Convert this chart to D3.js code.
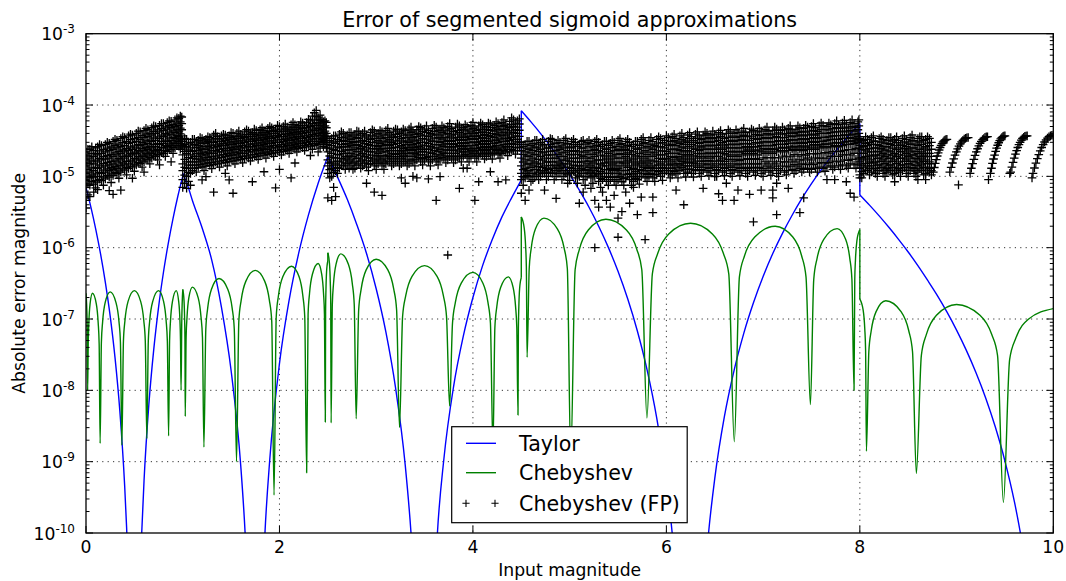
<!DOCTYPE html>
<html><head><meta charset="utf-8">
<script src="https://cdn.jsdelivr.net/npm/d3@7"></script>
<style>
body{margin:0;background:#fff}
svg{display:block}
text{font-family:"DejaVu Sans","Liberation Sans",sans-serif;fill:#000}
</style>
</head><body>
<svg id="chart" width="1066" height="581"></svg>
<script>
// ---------------- text ----------------
const titleText = "Error of segmented sigmoid approximations";
const xLabelText = "Input magnitude";
const yLabelText = "Absolute error magnitude";
const seriesNames = ["Taylor", "Chebyshev", "Chebyshev (FP)"];

// ---------------- ticks ----------------
const xTicks = [0, 2, 4, 6, 8, 10];
const yExponents = [-10, -9, -8, -7, -6, -5, -4, -3];

// ---------------- Taylor error (per segment) ----------------
const taylorSeg0 = [[0,7.0e-6],[0.05,3.73e-6],[0.1,1.84e-6],[0.15,8.25e-7],[0.2,3.27e-7],[0.25,1.1e-7],[0.3,2.87e-8],[0.35,5.1e-9],[0.4,4.5e-10],[0.42,1.18e-10],[0.45,7e-12],[0.55,8.1e-12],[0.576,1e-10],[0.6,5.4e-10],[0.65,6.4e-9],[0.7,3.7e-8],[0.75,1.46e-7],[0.8,4.45e-7],[0.85,1.14e-6],[0.9,2.58e-6],[0.95,5.3e-6],[1.0,1.0e-5]];
const taylorSeg1 = [[1.0,1.1e-5],[1.05,7.5e-6],[1.1,4.6e-6],[1.2,1.9e-6],[1.3,6.7e-7],[1.4,1.47e-7],[1.5,1.9e-8],[1.6,8.7e-10],[1.645,1e-10],[1.68,8.8e-12],[1.82,1.1e-11],[1.85,1e-10],[1.9,1.08e-9],[2.0,2.37e-8],[2.1,1.84e-7],[2.2,8.5e-7],[2.3,2.88e-6],[2.4,8.0e-6],[2.5,1.9e-5]];
const taylorSeg2 = [[2.5,1.9e-5],[2.6,9.8e-6],[2.7,4.8e-6],[2.8,2.1e-6],[2.9,8.3e-7],[3.0,2.66e-7],[3.1,6.6e-8],[3.2,1.09e-8],[3.3,9e-10],[3.36,1e-10],[3.4,1.3e-11],[3.6,1.3e-11],[3.633,1e-10],[3.7,1.1e-9],[3.8,1.13e-8],[3.9,5.7e-8],[4.0,2.0e-7],[4.1,5.6e-7],[4.2,1.3e-6],[4.3,2.7e-6],[4.4,5.0e-6],[4.5,8.9e-6]];
const taylorSeg3 = [[4.5,8.3e-5],[4.6,5.8e-5],[4.7,3.98e-5],[4.8,2.66e-5],[4.9,1.72e-5],[5.0,1.07e-5],[5.1,6.4e-6],[5.2,3.69e-6],[5.3,2.0e-6],[5.4,1.01e-6],[5.5,4.66e-7],[5.6,1.92e-7],[5.7,6.8e-8],[5.8,1.95e-8],[5.9,4.1e-9],[6.0,5.3e-10],[6.06,1e-10],[6.1,2.4e-11],[6.4,2.7e-11],[6.436,1e-10],[6.5,5.8e-10],[6.6,4.3e-9],[6.7,1.91e-8],[6.8,6.3e-8],[6.9,1.69e-7],[7.0,3.95e-7],[7.1,8.3e-7],[7.2,1.59e-6],[7.3,2.85e-6],[7.4,4.86e-6],[7.5,7.9e-6],[7.6,1.23e-5],[7.7,1.86e-5],[7.8,2.73e-5],[7.9,3.92e-5],[8.0,5.5e-5]];
const taylorSeg4 = [[8.0,5.5e-6],[8.1,3.95e-6],[8.2,2.79e-6],[8.3,1.93e-6],[8.4,1.31e-6],[8.5,8.7e-7],[8.6,5.6e-7],[8.7,3.5e-7],[8.8,2.15e-7],[8.9,1.26e-7],[9.0,7.0e-8],[9.1,3.66e-8],[9.2,1.78e-8],[9.3,7.9e-9],[9.4,3.08e-9],[9.5,1.02e-9],[9.6,2.66e-10],[9.66,1e-10],[9.7,4.7e-11],[10.0,1e-12]];

// ---------------- Chebyshev error (per segment) ----------------
const chebSeg0 = [[0,2.3e-7],[0.012,9e-8],[0.017,1e-8],[0.023,4.5e-8],[0.0295,8.8e-8],[0.042,1.63e-7],[0.067,2.3e-7],[0.1065,1.63e-7],[0.126,8.8e-8],[0.136,4.5e-8],[0.146,1.8e-9],[0.159,4.7e-8],[0.172,9.2e-8],[0.198,1.7e-7],[0.25,2.4e-7],[0.31,1.7e-7],[0.341,9.2e-8],[0.356,4.7e-8],[0.371,1.7e-9],[0.387,4.9e-8],[0.403,9.6e-8],[0.435,1.77e-7],[0.5,2.5e-7],[0.565,1.77e-7],[0.597,9.6e-8],[0.613,4.9e-8],[0.629,2.1e-9],[0.644,4.9e-8],[0.659,9.6e-8],[0.69,1.77e-7],[0.75,2.5e-7],[0.802,1.77e-7],[0.828,9.6e-8],[0.841,4.9e-8],[0.854,2.3e-9],[0.864,4.9e-8],[0.874,9.6e-8],[0.894,1.77e-7],[0.933,2.5e-7],[0.958,1.77e-7],[0.971,9.6e-8],[0.977,4.9e-8],[0.983,1e-8],[0.99,9e-8],[1.0,2.5e-7]];
const chebSeg1 = [[1.0,2.6e-7],[1.013,1.84e-7],[1.0195,1e-7],[1.023,5.1e-8],[1.026,4.3e-9],[1.035,5.5e-8],[1.0445,1.07e-7],[1.063,1.98e-7],[1.1,2.8e-7],[1.16,1.98e-7],[1.189,1.07e-7],[1.204,5.5e-8],[1.219,1.6e-9],[1.2385,7.2e-8],[1.258,1.42e-7],[1.297,2.62e-7],[1.375,3.7e-7],[1.4655,2.62e-7],[1.511,1.42e-7],[1.533,7.2e-8],[1.556,1e-9],[1.58,9.4e-8],[1.6045,1.84e-7],[1.653,3.4e-7],[1.75,4.8e-7],[1.847,3.4e-7],[1.8955,1.84e-7],[1.92,9.4e-8],[1.944,3.4e-10],[1.9665,1.07e-7],[1.989,2.1e-7],[2.0345,3.9e-7],[2.125,5.5e-7],[2.203,3.9e-7],[2.242,2.1e-7],[2.2615,1.07e-7],[2.281,7e-10],[2.296,1.17e-7],[2.311,2.3e-7],[2.3405,4.24e-7],[2.4,6e-7],[2.437,4.24e-7],[2.4555,2.3e-7],[2.465,1.17e-7],[2.474,3.6e-9],[2.477,1.27e-7],[2.4805,2.5e-7],[2.487,4.6e-7],[2.5,6.5e-7]];
const chebSeg2 = [[2.5,8.5e-7],[2.517,6e-7],[2.5255,3.25e-7],[2.53,1.66e-7],[2.534,3.5e-9],[2.5465,1.6e-7],[2.559,3.14e-7],[2.584,5.8e-7],[2.634,8.2e-7],[2.7135,5.8e-7],[2.753,3.14e-7],[2.773,1.6e-7],[2.793,4e-9],[2.819,1.35e-7],[2.845,2.64e-7],[2.8965,4.88e-7],[3.0,6.9e-7],[3.1205,4.88e-7],[3.181,2.64e-7],[3.211,1.35e-7],[3.241,3e-9],[3.273,1.09e-7],[3.306,2.14e-7],[3.3705,3.96e-7],[3.5,5.6e-7],[3.6295,3.96e-7],[3.694,2.14e-7],[3.727,1.09e-7],[3.759,6e-9],[3.789,8.8e-8],[3.819,1.72e-7],[3.8795,3.18e-7],[4.0,4.5e-7],[4.1035,3.18e-7],[4.155,1.72e-7],[4.181,8.8e-8],[4.207,1.5e-9],[4.227,7.6e-8],[4.247,1.49e-7],[4.2865,2.76e-7],[4.366,3.9e-7],[4.416,2.76e-7],[4.441,1.49e-7],[4.4535,7.6e-8],[4.466,4.5e-9],[4.47,7.4e-8],[4.4745,1.45e-7],[4.483,2.7e-7],[4.5,3.8e-7]];
const chebSeg3 = [[4.5,2.7e-6],[4.53,1.9e-6],[4.545,1.03e-6],[4.5525,5.3e-7],[4.56,2.9e-8],[4.582,5.1e-7],[4.6036,1.0e-6],[4.647,1.84e-6],[4.7345,2.6e-6],[4.873,1.84e-6],[4.942,1.0e-6],[4.976,5.1e-7],[5.011,1.1e-9],[5.0565,4.9e-7],[5.102,9.6e-7],[5.193,1.77e-6],[5.375,2.5e-6],[5.587,1.77e-6],[5.693,9.6e-7],[5.746,4.9e-7],[5.799,4.1e-9],[5.855,4.3e-7],[5.912,8.4e-7],[6.0245,1.56e-6],[6.25,2.2e-6],[6.4755,1.56e-6],[6.588,8.4e-7],[6.645,4.3e-7],[6.702,1.9e-9],[6.755,3.9e-7],[6.808,7.7e-7],[6.9135,1.41e-6],[7.125,2.0e-6],[7.307,1.41e-6],[7.398,7.7e-7],[7.4435,3.9e-7],[7.489,6.3e-9],[7.5235,3.6e-7],[7.558,7.1e-7],[7.627,1.31e-6],[7.7655,1.85e-6],[7.853,1.31e-6],[7.896,7.1e-7],[7.918,3.6e-7],[7.94,1e-8],[7.9475,3.5e-7],[7.955,6.9e-7],[7.97,1.27e-6],[8.0,1.8e-6]];
const chebSeg4 = [[8.0,1.9e-7],[8.034,1.34e-7],[8.051,7.3e-8],[8.0595,3.7e-8],[8.068,1.4e-9],[8.093,3.5e-8],[8.118,6.9e-8],[8.168,1.27e-7],[8.268,1.8e-7],[8.426,1.27e-7],[8.505,6.9e-8],[8.5445,3.5e-8],[8.584,6.8e-10],[8.636,3.1e-8],[8.688,6.1e-8],[8.792,1.13e-7],[9.0,1.6e-7],[9.242,1.13e-7],[9.363,6.1e-8],[9.4235,3.1e-8],[9.484,2.7e-10],[9.5485,2.7e-8],[9.613,5.4e-8],[9.742,9.9e-8],[10.0,1.4e-7]];

// ---------------- Chebyshev (FP) error samples ----------------
// each row: [x, error values at that x ...]; errors in units of 1e-6
const fpUnit = 1e-6;
const fpSeg0 = [[0,22,17,14,11,8.8,7,4.6,3.6],[0.04,24,18,15,11.5,9.5,7.5,5.2],[0.08,23,19,15,12,9.8,7.8,6],[0.12,26,20,16,13,10,8.3,6.5],[0.16,27,21,17,13.5,11,8.7],[0.2,28,22,17.5,14,11.5,9.2],[0.24,29,23,18,14.5,12,9.8,6.3],[0.28,31,24,19,15,12.5,10.3,5.6],[0.32,32,25,20,16,13,10.9],[0.36,34,26,21,17,14,11.5,6.4],[0.4,35,27,22,18,14.5,12.2],[0.44,37,29,23,19,15,12.9],[0.48,38,30,24,20,16,13.6,9.4],[0.52,40,31,25,21,17,14.4],[0.56,42,33,27,22,18,15.2],[0.6,44,35,28,23,19,16,11.5],[0.64,45,36,29,24,20,17],[0.68,48,38,31,25,21,18],[0.72,50,40,32,26,22,19],[0.76,52,42,34,28,23,20,14.5],[0.8,55,44,36,29,25,21],[0.84,57,46,38,31,26,22.4],[0.88,59,48,39,32,27,23.7,16],[0.92,62,50,41,34,29,25],[0.96,65,52,43,36,31,26.5],[0.99,68,55,45,37,31,27]];
const fpSeg0b = [[0.02,24,19.3,15.4,12.4,9.8,7.8,5.5],[0.06,26,20.8,16.4,13.1,10.4,8.4],[0.1,20.9,16.9,13.4,10.8,8.7,6.9,25],[0.14,28,22.8,17.9,14.4,11.4,9.1],[0.18,23.8,18.9,15.1,12.2,9.8,7.5],[0.22,30,24.8,19.6,15.7,12.7,10.3],[0.26,25.8,20.3,16.2,13.2,10.8,8.2],[0.3,33,27.3,21.4,16.9,13.7,11.3],[0.34,28.3,22.4,17.9,14.4,11.9,9.4],[0.38,36,29.7,23.4,18.9,15.4,12.7],[0.42,30.7,24.4,19.9,16.2,13.3,10.5],[0.46,39,32.8,25.8,20.9,16.9,13.9],[0.5,33.8,26.8,21.9,17.9,14.8,11.8],[0.54,43,35.2,27.8,22.9,18.9,15.6],[0.58,37.2,29.8,24.4,19.9,16.5,13.5],[0.62,47,39.2,31.3,25.4,20.9,17.4],[0.66,40.2,32.3,26.4,21.9,18.4,15],[0.7,51,42.7,34.3,27.8,22.9,19.4],[0.74,44.7,35.8,28.8,23.9,20.4,17],[0.78,55,46.7,37.8,30.9,25.4,21.4],[0.82,49.2,39.8,32.3,26.9,22.9,19],[0.86,60,51.2,41.8,34.3,28.4,24.1],[0.9,53.2,43.3,35.3,29.4,25.3,21],[0.94,66,55.7,45.3,37.3,31.4,26.9],[0.975,58.1,47.3,39.3,33.4,28.7,24,70]];
const fpSeg1 = [[1.0,31,25,20,15,12,9,7],[1.04,33,26,21,16,13,10,6.8],[1.08,30,25,20,16,13,11,7.5],[1.12,33,28,23,19,16,13],[1.16,32,27,23,19,16,13.3],[1.2,34,29,24,20,16.5,13.6,8.9],[1.24,33,29,24,20,17,13.9,9.9],[1.28,35,30,25,21,17,14.3],[1.32,38,30,25,21,17.5,14.6,6],[1.36,36,31,26,22,18,15],[1.4,37,31,27,22,18.5,15.3],[1.44,38,32,27,23,19,15.7,11],[1.48,37,33,28,23,19.5,16.1,8.9],[1.52,40,33,28,24,20,16.5,5.8],[1.56,40,34,29,24,20,16.9],[1.6,39,34,29,25,21,17.3],[1.64,42,35,30,25,21,17.7],[1.68,43,36,31,26,22,18.1],[1.72,41,36,31,26,22,18.5,8.4],[1.76,44,37,32,27,23,19],[1.8,45,38,32,27,23,19.4],[1.84,44,38,33,28,24,19.9,11.6],[1.88,47,39,34,29,24,20.4],[1.92,48,40,34,29,25,20.9],[1.96,46,40,35,30,25,21.4,6.9],[2.0,50,42,36,30,26,21.9,12.5],[2.04,50,43,36,31,26,22.4],[2.08,49,43,37,32,27,23],[2.12,53,45,38,32,27,23.5,9.5],[2.16,53,45,39,33,28,24.1,15.4],[2.2,52,46,39,34,29,24.7],[2.24,56,47,40,34,29,25.3],[2.28,57,48,41,35,30,25.9],[2.32,60,50,42,36,31,26.5,19.6],[2.36,78,62,52,44,37,31,27],[2.4,66,56,47,40,34,28,22],[2.44,63,54,45,38,33,30],[2.47,60,51,43,37,32,28]];
const fpSeg1b = [[1.02,27.8,22.4,17.3,13.4,10.4,8,34],[1.06,29.3,23.4,18.3,14.4,11.4,8.5],[1.1,33,27.4,22.4,17.9,14.4,12],[1.14,30.4,25.4,20.9,17.4,14.4,11.5],[1.18,35,29.4,24.9,20.9,17.4,14.6],[1.22,31.4,26.4,21.9,18.2,15,12],[1.26,36,30.9,26.4,21.9,18.4,15.4],[1.3,32.4,27.4,22.9,18.9,15.6,12.8],[1.34,40,33.8,27.4,22.9,19.2,16],[1.38,33.4,28.4,23.9,19.9,16.4,13.5],[1.42,39,33.9,28.9,24.4,20.2,16.8],[1.46,34.9,29.4,24.9,20.9,17.3,14],[1.5,41,34.9,30.4,25.4,21.2,17.7],[1.54,36.3,30.4,25.9,21.9,18.2,15],[1.58,43,36.9,31.4,26.4,21.9,18.4],[1.62,36.4,31.4,26.9,22.9,19.1,15.5],[1.66,45,38.3,32.4,27.4,22.9,19.3],[1.7,39.3,33.4,28.4,23.9,20,16.5],[1.74,46,38.4,33.4,28.4,23.9,20.2],[1.78,40.3,34.4,29.4,24.9,20.9,17.3],[1.82,48,41.3,34.9,29.4,24.9,21.1],[1.86,40.9,35.4,30.4,25.9,21.9,18],[1.9,50,42.8,36.4,31.4,26.4,22.1],[1.94,43.8,36.9,31.4,26.9,22.9,19],[1.98,52,42.9,37.4,32.4,27.4,23.1],[2.02,45.8,38.9,32.9,27.9,23.9,20],[2.06,54,46.4,39.3,33.4,28.4,24.1],[2.1,45.9,39.9,34.4,29.4,24.9,21],[2.14,57,48.8,41.4,34.9,29.4,25.2],[2.18,48.8,41.9,35.9,30.4,26,22],[2.22,58,48.9,42.4,36.4,31.4,26.8],[2.26,51.3,43.4,36.9,31.4,27.1,23],[2.3,63,52.3,44.4,37.9,32.4,27.9],[2.34,70,54.8,45.8,38.9,33.4,28.7,24],[2.38,69.5,56.8,47.8,40.3,33.9,28.9,84],[2.42,72,60.8,51.3,43.4,36.9,30.9,24.8],[2.455,58.3,49.3,41.4,35.4,31.5,26],[2.485,57,48,40,34,30,25]];
const fpSeg2 = [[2.5,36,28,22,17,14,11,5],[2.54,34,27,21,16,13,10,4.6],[2.58,37,29,23,18,15,12,5.2],[2.62,39,31,25,20,16,13],[2.66,40,32,26,21,17,14],[2.7,38,31,26,21,18,15],[2.74,41,33,27,21,17,14],[2.78,39,31,25,20,16,13],[2.82,42,34,27,22,18,15],[2.86,40,32,26,21,17,14],[2.9,38,31,25,20,16.5,13.5,8],[2.94,41,33,27,22,18,15],[2.98,43,34,27,22,17,14,6],[3.02,40,32,26,21,18,15],[3.06,42,34,27,22,17,14,5.4],[3.1,44,35,28,22,18,15],[3.14,41,33,27,23,19,16],[3.18,43,35,28,23,18,15],[3.22,45,36,29,23,19,16],[3.26,42,34,27,22,18,15,9.5],[3.3,44,35,28,23,19,16,8],[3.34,46,37,30,24,19,15],[3.38,43,35,28,23,19,16,10],[3.42,45,36,29,24,20,17,9.5],[3.46,48,38,30,25,20,16],[3.5,46,37,30,24,20,17],[3.54,44,36,29,24,19,16,9.2],[3.58,47,38,31,25,21,17],[3.62,49,39,31,25,20,16,4.6],[3.66,46,37,30,24,20,17,9.9],[3.7,48,39,31,26,21,18],[3.74,50,40,32,26,21,17,0.79],[3.78,47,38,31,25,21,18],[3.82,49,39,32,26,21,17],[3.86,51,41,33,27,22,18,6.8],[3.9,48,39,32,26,22,19,13],[3.94,50,40,33,27,22,18,13],[3.98,52,42,34,27,23,19],[4.02,49,40,33,27,22,18,4.6],[4.06,51,41,34,28,23,19,8.4],[4.1,53,43,35,29,24,20],[4.14,50,41,34,28,23,19],[4.18,54,44,36,29,24,20,11.6],[4.22,52,43,35,29,25,21],[4.26,55,45,37,30,24,20,8.4],[4.3,57,46,38,31,25,21],[4.34,54,45,37,31,26,22,8.9],[4.38,59,48,39,32,26,22],[4.42,62,50,41,33,28,23],[4.46,60,49,40,33,28,23]];
const fpSeg2b = [[2.52,31.7,24.8,19.3,15.4,12.4,9.5],[2.56,37,30.3,23.8,18.3,14.4,11.4,7],[2.6,32.8,25.8,20.3,16.4,13.4,11],[2.64,42,34.8,27.8,22.4,17.9,14.4],[2.68,35.8,28.8,23.4,18.9,15.4,12.5],[2.72,41,34.3,28.4,23.4,19.4,16.4,13],[2.76,36.8,29.8,23.8,18.9,15.4,12.5],[2.8,43,34.8,27.8,22.4,17.9,14.4],[2.84,37.8,30.3,24.4,19.9,16.4,13],[2.88,43,35.8,28.8,23.4,18.9,15.4],[2.92,34.3,27.8,22.4,18.2,14.9,12],[2.96,45,36.8,29.8,24.4,19.9,16.4],[3.0,38.2,30.3,24.4,19.3,15.4,12.5],[3.04,44,35.8,28.8,23.4,19.4,16.4],[3.08,37.8,30.3,24.4,19.3,15.4,12.5],[3.12,47,39.2,31.3,24.8,19.9,16.4],[3.16,36.8,29.8,24.9,20.9,17.4,14],[3.2,46,38.8,31.3,25.4,20.3,16.4],[3.24,40.2,32.3,25.8,20.9,17.4,14],[3.28,46,37.8,30.3,24.4,19.9,16.4],[3.32,39.2,31.3,25.4,20.9,17.4,14],[3.36,49,41.3,33.3,26.8,21.4,16.9],[3.4,38.8,31.3,25.4,20.9,17.4,14],[3.44,50,40.2,32.3,26.4,21.9,18.4],[3.48,42.7,33.8,27.4,22.4,17.9,14.5],[3.52,51,41.3,33.3,26.8,21.9,18.4],[3.56,39.8,32.3,26.4,21.4,17.4,14],[3.6,52,42.3,34.3,27.8,22.9,18.9],[3.64,43.7,34.8,27.8,22.4,17.9,14.5],[3.68,51,41.3,33.3,26.8,21.9,18.4],[3.72,43.3,34.8,28.4,23.4,19.4,15.5],[3.76,55,44.7,35.8,28.8,23.4,18.9],[3.8,42.3,34.3,27.8,22.9,19.4,15.5],[3.84,54,43.7,35.3,28.8,23.4,18.9],[3.88,45.7,36.8,29.8,24.4,19.9,16],[3.92,53,43.3,35.3,28.8,23.9,20.4],[3.96,44.7,36.3,29.8,24.4,19.9,16],[4.0,57,46.7,37.8,30.3,24.9,20.9],[4.04,44.3,36.3,29.8,24.4,19.9,16],[4.08,56,45.7,37.3,30.9,25.4,20.9],[4.12,47.7,38.8,31.9,26.4,21.9,17.5],[4.16,56,45.3,37.3,30.9,25.4,20.9],[4.2,48.7,39.8,32.3,26.4,21.9,17.5],[4.24,58,47.3,38.8,31.9,26.9,22.9],[4.28,49.7,40.8,33.3,26.8,21.9,18],[4.32,62,51.2,41.8,34.3,27.8,22.9],[4.36,49.3,40.8,33.9,28.4,23.9,19.5],[4.4,66,53.2,43.3,35.3,28.8,23.9],[4.44,55.7,45.3,36.8,30.4,25.4,20.5],[4.48,64,54.2,44.3,36.3,30.4,25.4]];
const fpSeg3 = [[4.5,30,23,18,14,11,9,5.8],[4.54,28,22,17,13,11,9.5,4.6],[4.58,31,24,19,15,12,10,6.4],[4.62,29,23,18,14,11,9],[4.66,32,25,20,15,12.5,10.5],[4.7,30,24,19,15,12,10],[4.74,28,22,18,14,12,11,6.4],[4.78,31,25,20,16,12.5,10],[4.82,33,26,20,16,13,11],[4.86,29,23,18,14,12,10,4.9],[4.9,30,24,19,15,13,11],[4.94,32,25,19,15,12,10],[4.98,29,23,18,15,12,10.5,8],[5.02,31,25,20,16,13,11],[5.06,30,23,18,14,11.5,9.5],[5.1,28,22,18,14,12,10,4.2],[5.14,32,25,19,14,11,9,6],[5.18,30,23,18,15,12,10],[5.22,29,23,18,14,11.5,9.5,6.8],[5.26,31,24,19,15,12,10,4.6,1],[5.3,30,23,17,13,10.5,8.5,3.7],[5.34,28,22,17,14,11,9,6],[5.38,31,24,18,14,11,8.5,4.6],[5.42,29,22,17,13,11,9,3.7],[5.46,30,23,18,14,11,8.5,5.4],[5.5,32,24,18,13,11,9,2.6,1.4],[5.54,29,23,18,14,10.5,8.4,3.2],[5.58,31,24,19,15,12,9.5,6],[5.62,30,23,18,14,11,9,4.2],[5.66,28,22,17,13,10.5,8.5,7],[5.7,31,24,18,14,11,9,2.9],[5.74,33,25,19,15,12,10,5.1],[5.78,30,23,18,14,12,9.5,1.3],[5.82,32,25,19,15,12,10],[5.86,31,24,19,14,12,9.5,5.1,3.1],[5.9,33,26,20,16,13,10.5],[5.94,34,26,20,15,12,10],[5.98,32,25,20,16,13,11],[6.02,35,27,21,17,13,11],[6.06,36,28,21,16,13,10.5],[6.1,34,27,21,17,13.5,11,6.4],[6.14,37,29,23,18,14.5,12],[6.18,35,28,22,17,14,11,4],[6.22,38,30,23,18,14,11.5],[6.26,36,28,22,17,14,11],[6.3,39,30,24,18,15,12],[6.34,37,29,23,19,14,11],[6.38,38,30,24,18,15,12,6.8],[6.42,40,31,24,19,14.5,11.5],[6.46,38,30,24,18,15,12],[6.5,39,31,24,19,14,11,9.9],[6.54,41,32,25,19,15,12,5.7],[6.58,39,30,24,18,14.5,11.5,4.6],[6.62,40,31,25,20,15,12,8],[6.66,42,32,25,19,14,11],[6.7,40,31,25,20,15,12,4.6],[6.74,41,32,25,19,14.5,11.5,6.4],[6.78,43,33,25,20,15,12],[6.82,41,32,26,21,15,11],[6.86,42,32,25,20,15,12,5.6],[6.9,44,34,26,21,15,11.5,2.3],[6.94,42,33,26,20,15,12],[6.98,43,34,27,22,15,11,6.4],[7.02,45,35,27,21,16,12],[7.06,43,34,27,22,15,11.5],[7.1,44,35,27,21,16,12,6.4,5],[7.14,46,36,28,22,15,11,8,2.9],[7.18,44,35,28,23,16,12],[7.22,45,35,28,22,16,11.5],[7.26,47,37,29,23,16,12,6.8],[7.3,45,36,29,24,17,12.5],[7.34,46,37,29,23,16,12],[7.38,48,38,30,24,17,13,3.1],[7.42,47,37,29,23,17,12.5,5],[7.46,49,38,30,24,18,13],[7.5,50,39,31,25,17,12.5],[7.54,48,38,30,24,18,13],[7.58,51,40,31,25,18,13.5],[7.62,52,40,31,26,18,13],[7.66,50,40,32,25,18,13.5,9],[7.7,53,41,33,26,19,14],[7.74,55,42,33,27,19,13.5,9],[7.78,53,42,33,26,19,14],[7.82,56,43,34,27,20,14.5],[7.86,54,42,34,28,20,14,8.4],[7.9,57,44,35,28,20,15,5.8],[7.94,55,43,34,29,21,14.5,5.1],[7.98,58,45,36,30,21,15]];
const fpSeg3b = [[4.52,26.3,20.3,15.9,12.4,9.9,7.5],[4.56,31,24.8,19.3,14.9,11.9,10.2],[4.6,27.3,21.4,16.9,13.4,11,8.5],[4.64,32,25.8,20.3,15.9,12.4,9.9],[4.68,28.3,22.4,17.3,13.7,11.5,9],[4.72,33,26.8,21.4,16.9,13.4,11],[4.76,24.8,19.9,15.9,13,11.5,9],[4.8,34,27.8,22.4,17.9,14.1,11.2],[4.84,29.3,22.8,17.9,14.4,12,9],[4.88,32,25.8,20.3,15.9,13,11],[4.92,26.8,21.4,16.9,14,12,9],[4.96,34,28.3,21.8,16.9,13.4,11],[5.0,25.8,20.3,16.4,13.4,11.2,8.8],[5.04,33,27.8,22.4,17.9,14.4,12],[5.08,26.3,20.3,15.9,12.7,10.4,8],[5.12,31,24.8,19.9,15.9,13,11],[5.16,28.3,21.8,16.3,12.4,9.9,7.5],[5.2,32,26.3,20.3,16.4,13.4,11],[5.24,25.8,20.3,15.9,12.7,10.4,8],[5.28,33,27.3,21.4,16.9,13.4,11],[5.32,26.3,19.8,14.9,11.7,9.4,7],[5.36,31,24.8,19.3,15.4,12.4,9.9],[5.4,27.3,20.8,15.9,12.4,9.7,7.5],[5.44,32,25.3,19.3,14.9,12,9.9],[5.48,26.3,20.3,15.9,12.4,9.7,7.5],[5.52,34,27.8,20.8,15.3,12,9.9],[5.56,25.8,20.3,15.9,12.1,9.4,7.5],[5.6,33,27.3,21.4,16.9,13.4,10.7],[5.64,26.3,20.3,15.9,12.4,9.9,7.5],[5.68,31,24.8,19.3,14.9,11.7,9.4],[5.72,27.3,20.8,15.9,12.4,9.9,7.8],[5.76,35,28.7,21.8,16.9,13.4,11],[5.8,26.3,20.3,15.9,13,10.7,8.5],[5.84,35,28.3,21.8,16.9,13.4,11],[5.88,27.3,21.4,16.3,13,10.7,8.5],[5.92,36,29.3,22.8,17.9,14.4,11.7],[5.96,29.7,22.8,17.3,13.4,11,8.8],[6.0,37,28.3,22.4,17.9,14.4,12],[6.04,30.7,23.8,18.9,14.9,12,9.5],[6.08,39,31.7,24.2,18.3,14.4,11.7],[6.12,30.3,23.8,18.9,15.1,12.2,9.5],[6.16,40,32.8,25.8,20.3,16.2,13.2],[6.2,31.3,24.8,19.3,15.4,12.4,9.8],[6.24,41,33.8,26.3,20.3,15.9,12.7],[6.28,31.7,24.8,19.3,15.4,12.4,9.8],[6.32,42,34.2,26.8,20.8,16.4,13.4],[6.36,32.8,25.8,20.9,16.3,12.4,10],[6.4,42,33.8,26.8,20.8,16.4,13.4],[6.44,35.2,27.3,21.4,16.6,12.9,10.2],[6.48,43,33.8,26.8,20.8,16.4,13.4],[6.52,34.8,27.3,21.4,16.3,12.4,10],[6.56,44,36.2,28.3,21.8,16.9,13.4],[6.6,34.2,26.8,20.8,16.2,12.9,10.2],[6.64,45,35.2,27.8,22.4,17.3,13.4],[6.68,36.7,28.3,21.8,16.3,12.4,10],[6.72,45,35.2,27.8,22.4,17.3,13.4],[6.76,36.2,28.3,21.8,16.6,12.9,10.2],[6.8,47,37.7,28.7,22.4,17.3,13.4],[6.84,36.2,28.8,23.4,17.7,12.8,10],[6.88,46,36.7,28.3,22.4,17.3,13.4],[6.92,38.7,29.7,23.4,17.7,13.1,10.3],[6.96,47,37.2,29.3,22.8,17.3,13.4],[7.0,38.2,30.3,24.4,18.2,12.8,10],[7.04,49,39.7,30.7,23.8,18.3,13.9],[7.08,38.2,30.3,24.4,18.2,13.1,10.3],[7.12,49,39.2,30.7,23.8,18.3,13.9],[7.16,40.7,31.7,24.8,18.2,12.8,10],[7.2,49,39.2,31.3,25.4,19.2,13.9],[7.24,39.7,31.3,24.8,18.8,13.6,10.5],[7.28,51,41.7,32.8,25.8,19.2,13.9],[7.32,40.2,32.3,26.4,20.2,14.6,11],[7.36,51,41.3,32.8,25.8,19.2,13.9],[7.4,42.7,33.8,26.8,20.2,14.9,11.5],[7.44,52,41.7,32.8,25.8,19.8,14.6],[7.48,43.2,33.8,26.8,20.8,15.3,11.5],[7.52,55,44.2,34.8,27.8,20.6,14.6],[7.56,42.7,33.8,26.8,20.8,15.3,11.5],[7.6,56,45.2,35.2,27.8,21.2,15.6],[7.64,45.6,35.2,28.4,21.6,15.3,11.8],[7.68,56,44.7,35.8,28.3,21.2,15.6],[7.72,46.6,36.8,29.3,22.2,16.3,12.5],[7.76,60,48.1,37.2,29.8,22.6,16],[7.8,47.2,37.2,29.3,22.2,16.3,12.5],[7.84,61,49.1,38.2,30.3,23.2,17],[7.88,47.6,37.8,30.9,23.7,16.7,13],[7.92,62,50.1,39.2,31.3,23.7,17.3],[7.96,48.6,38.2,31.4,24.7,17.4,13],[7.99,62,51,40,33,25,18]];
const fpSeg4 = [[8.0,34,27,21,16,13,10.5,9.5],[8.04,32,26,21,17,13.5,11],[8.08,33,27,22,18,14,12],[8.12,35,28,22,17,14,11.5],[8.16,31,25,20,16,13,11],[8.2,34,27,22,18,14.5,12],[8.24,33,26,21,17,13.5,11],[8.28,32,26,20,16,13,11.5],[8.32,35,28,22,18,14.5,12],[8.36,33,27,21,17,13.5,11,8.4],[8.4,32,25,20,16,13,11.5],[8.44,34,27,22,18,14.5,12],[8.48,33,26,21,17,13.5,11],[8.52,35,28,22,18,14.5,12],[8.56,32,25,20,16,13,11],[8.6,34,27,21,17,14,11.5,9],[8.64,36,28,22,18,14.5,12],[8.68,33,26,21,17,13.5,11,9],[8.72,34,27,21,16,13,11.5]];
const fpSeg4b = [[8.02,30.3,23.8,18.3,14.4,11.7,9.5],[8.06,36,28.8,23.4,18.9,15.1,12.2],[8.1,29.8,24.4,19.9,15.9,13,10.5],[8.14,37,31.3,24.8,19.3,15.4,12.7],[8.18,27.8,22.4,17.9,14.4,12,10],[8.22,36,30.3,24.4,19.9,16.2,13.2],[8.26,29.3,23.4,18.9,15.1,12.2,10],[8.3,35,28.8,22.8,17.9,14.4,12.2],[8.34,31.3,24.8,19.9,16.2,13.2,10.5],[8.38,36,29.8,23.8,18.9,15.1,12.2],[8.42,28.3,22.4,17.9,14.4,12.2,10],[8.46,37,30.3,24.4,19.9,16.2,13.2],[8.5,29.3,23.4,18.9,15.1,12.2,10],[8.54,38,31.3,24.8,19.9,16.2,13.2],[8.58,28.3,22.4,17.9,14.4,12,10],[8.62,36,30.3,23.8,18.9,15.4,12.7],[8.66,31.7,24.8,19.9,16.2,13.2,10.5],[8.7,36,29.3,23.4,18.9,15.1,12.2],[8.74,30,24,19,15,12,10.5]];
const fpArcs = [[8.76,11.5],[8.77,13.3],[8.78,15.2],[8.79,17.2],[8.8,19.3],[8.81,21.4],[8.82,23.4],[8.83,25.4],[8.84,27.2],[8.85,28.8],[8.86,30.3],[8.87,31.4],[8.88,32.3],[8.89,32.8],[8.9,33],
  [8.93,11.5],[8.944,13.4],[8.957,15.4],[8.971,17.6],[8.984,19.8],[8.998,22.1],[9.011,24.3],[9.025,26.5],[9.039,28.5],[9.052,30.4],[9.066,32],[9.079,33.3],[9.093,34.2],[9.106,34.8],[9.12,35],
  [9.14,11],[9.153,13],[9.166,15.1],[9.179,17.3],[9.191,19.7],[9.204,22.1],[9.217,24.4],[9.23,26.8],[9.243,29],[9.256,30.9],[9.269,32.7],[9.281,34],[9.294,35.2],[9.307,35.8],[9.32,36],
  [9.35,11],[9.361,13],[9.371,15.2],[9.382,17.5],[9.393,19.9],[9.404,22.4],[9.414,24.9],[9.425,27.3],[9.436,29.6],[9.446,31.7],[9.457,33.5],[9.468,35],[9.479,36.1],[9.489,36.7],[9.5,37],
  [9.56,11.5],[9.572,13.5],[9.584,15.7],[9.596,18],[9.609,20.5],[9.621,23],[9.633,25.4],[9.645,27.8],[9.657,30],[9.669,32.2],[9.681,34],[9.694,35.3],[9.706,36.3],[9.718,36.8],[9.73,37],
  [9.79,11],[9.805,13.1],[9.82,15.3],[9.835,17.7],[9.85,20.2],[9.865,22.8],[9.88,25.4],[9.895,27.9],[9.91,30.3],[9.925,32.5],[9.94,34.4],[9.955,35.9],[9.97,37],[9.985,37.7],[10.0,38],
  [9.02,7.6],[9.33,9],[9.55,11],[9.78,9.5]];

// ---------------- drawing ----------------
const W = 1066, H = 581;
const plot = {left: 86, right: 1053.3, top: 33.7, bottom: 533};
const svg = d3.select("#chart");

const x = d3.scaleLinear().domain([0, 10]).range([plot.left, plot.right]);
const y = d3.scaleLog().domain([1e-10, 1e-3]).range([plot.bottom, plot.top]);

svg.append("rect").attr("width", W).attr("height", H).attr("fill", "#fff");

svg.append("defs").append("clipPath").attr("id", "clip").append("rect")
  .attr("x", plot.left).attr("y", plot.top)
  .attr("width", plot.right - plot.left).attr("height", plot.bottom - plot.top);

// grid
const grid = svg.append("g").attr("stroke", "#000").attr("stroke-width", 0.8)
  .attr("stroke-dasharray", "1.2,4.2").attr("fill", "none");
xTicks.slice(1, -1).forEach(t => {
  grid.append("line").attr("x1", x(t)).attr("x2", x(t)).attr("y1", plot.top).attr("y2", plot.bottom);
});
yExponents.slice(1, -1).forEach(e => {
  const yy = y(Math.pow(10, e));
  grid.append("line").attr("x1", plot.left).attr("x2", plot.right).attr("y1", yy).attr("y2", yy);
});

const dataG = svg.append("g").attr("clip-path", "url(#clip)");

function drawSegments(segs, color) {
  const smooth = d3.line().x(d => x(d[0])).y(d => y(d[1])).curve(d3.curveMonotoneX);
  const straight = d3.line().x(d => x(d[0])).y(d => y(d[1]));
  segs.forEach((s, i) => {
    dataG.append("path").attr("d", smooth(s)).attr("fill", "none")
      .attr("stroke", color).attr("stroke-width", 1.4).attr("stroke-linejoin", "round");
    if (i > 0) {
      const prev = segs[i - 1];
      dataG.append("path").attr("d", straight([prev[prev.length - 1], s[0]])).attr("fill", "none")
        .attr("stroke", color).attr("stroke-width", 1.4);
    }
  });
}
drawSegments([taylorSeg0, taylorSeg1, taylorSeg2, taylorSeg3, taylorSeg4], "#0000ff");
drawSegments([chebSeg0, chebSeg1, chebSeg2, chebSeg3, chebSeg4], "#008000");

// FP markers
const plusPath = "M-4.3,0H4.3M0,-4.3V4.3";
const fpRows = [].concat(fpSeg0, fpSeg0b, fpSeg1, fpSeg1b, fpSeg2, fpSeg2b, fpSeg3, fpSeg3b, fpSeg4, fpSeg4b, fpArcs);
const fpPts = fpRows.flatMap(r => r.slice(1).map(v => [r[0], v * fpUnit]));
dataG.append("g").selectAll("path").data(fpPts).join("path")
  .attr("d", plusPath)
  .attr("transform", d => `translate(${x(d[0]).toFixed(2)},${y(d[1]).toFixed(2)})`)
  .attr("stroke", "#000").attr("stroke-width", 1.3).attr("fill", "none");

// frame
svg.append("rect").attr("x", plot.left).attr("y", plot.top)
  .attr("width", plot.right - plot.left).attr("height", plot.bottom - plot.top)
  .attr("fill", "none").attr("stroke", "#000").attr("stroke-width", 1.3);

// ticks
const tk = svg.append("g").attr("stroke", "#000").attr("stroke-width", 1);
xTicks.forEach(t => {
  tk.append("line").attr("x1", x(t)).attr("x2", x(t)).attr("y1", plot.bottom).attr("y2", plot.bottom - 7);
  tk.append("line").attr("x1", x(t)).attr("x2", x(t)).attr("y1", plot.top).attr("y2", plot.top + 7);
});
yExponents.forEach((e, i) => {
  const v = Math.pow(10, e);
  tk.append("line").attr("x1", plot.left).attr("x2", plot.left + 7).attr("y1", y(v)).attr("y2", y(v));
  tk.append("line").attr("x1", plot.right).attr("x2", plot.right - 7).attr("y1", y(v)).attr("y2", y(v));
  if (i < yExponents.length - 1) {
    for (let k = 2; k <= 9; k++) {
      const yy = y(k * v);
      tk.append("line").attr("x1", plot.left).attr("x2", plot.left + 3.5).attr("y1", yy).attr("y2", yy);
      tk.append("line").attr("x1", plot.right).attr("x2", plot.right - 3.5).attr("y1", yy).attr("y2", yy);
    }
  }
});

// tick labels
xTicks.forEach(t => {
  svg.append("text").attr("x", x(t)).attr("y", 553).attr("text-anchor", "middle")
    .attr("font-size", 17.2).text(t);
});
yExponents.forEach(e => {
  const tx = svg.append("text").attr("x", 75).attr("y", y(Math.pow(10, e)) + 6.5)
    .attr("text-anchor", "end").attr("font-size", 17.2);
  tx.append("tspan").text("10");
  tx.append("tspan").attr("font-size", 12).attr("dy", -7).text("-" + Math.abs(e));
});

// titles
svg.append("text").attr("x", (plot.left + plot.right) / 2).attr("y", 26.5)
  .attr("text-anchor", "middle").attr("font-size", 20.7).text(titleText);
svg.append("text").attr("x", (plot.left + plot.right) / 2).attr("y", 576)
  .attr("text-anchor", "middle").attr("font-size", 17.2).text(xLabelText);
svg.append("text").attr("transform", `translate(25,${(plot.top + plot.bottom) / 2}) rotate(-90)`)
  .attr("text-anchor", "middle").attr("font-size", 17.2).text(yLabelText);

// legend
const lg = svg.append("g");
lg.append("rect").attr("x", 451.7).attr("y", 426.7).attr("width", 235.5).attr("height", 96)
  .attr("fill", "#fff").attr("stroke", "#000").attr("stroke-width", 1.2);
const rowY = [443.3, 472.7, 503.3];
lg.append("line").attr("x1", 466).attr("x2", 496).attr("y1", rowY[0]).attr("y2", rowY[0])
  .attr("stroke", "#0000ff").attr("stroke-width", 1.4);
lg.append("line").attr("x1", 466).attr("x2", 496).attr("y1", rowY[1]).attr("y2", rowY[1])
  .attr("stroke", "#008000").attr("stroke-width", 1.4);
[466, 495].forEach(px => {
  lg.append("path").attr("d", "M-3.6,0H3.6M0,-3.6V3.6").attr("transform", `translate(${px},${rowY[2]})`)
    .attr("stroke", "#000").attr("stroke-width", 1.1).attr("fill", "none");
});
seriesNames.forEach((n, i) => {
  lg.append("text").attr("x", 519).attr("y", rowY[i] + 7.4).attr("font-size", 20.6).text(n);
});
</script>
</body></html>
